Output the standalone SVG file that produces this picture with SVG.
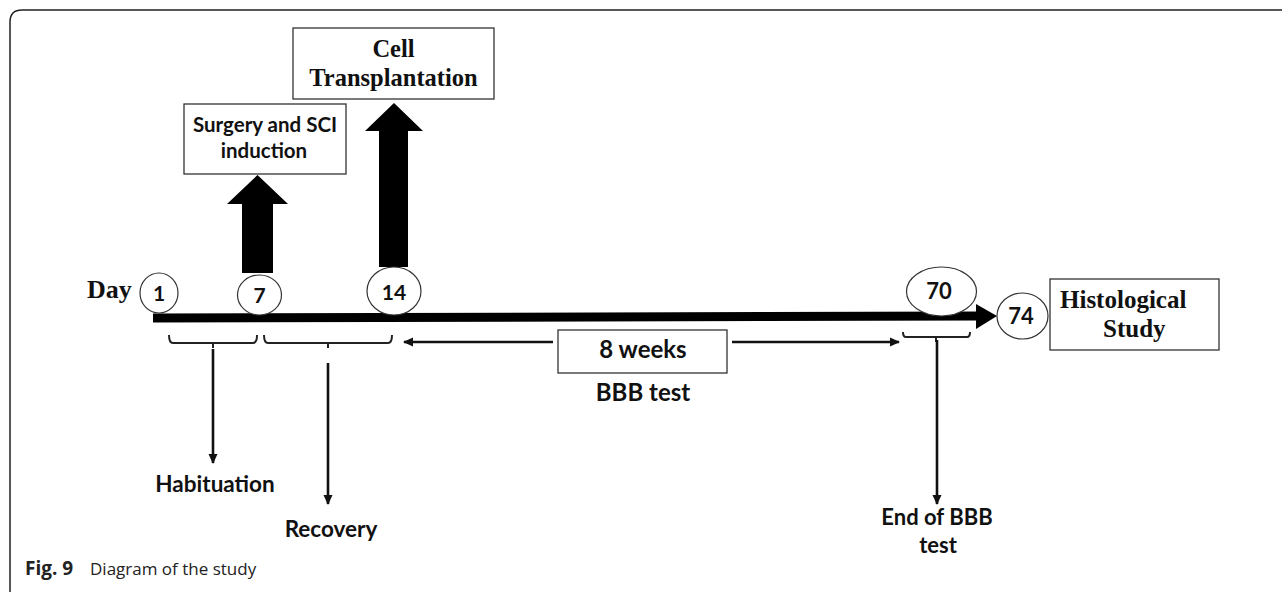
<svg xmlns="http://www.w3.org/2000/svg" width="1282" height="592" viewBox="0 0 1282 592">
<style>
.sans{font-family:Lato,"Open Sans",sans-serif;font-weight:bold;fill:#111}
.serif{font-family:"Liberation Serif","DejaVu Serif",serif;font-weight:bold;fill:#111}
.box{fill:#fff;stroke:#333;stroke-width:1.3}
.oval{fill:#fff;stroke:#333;stroke-width:1.2}
.thin{fill:none;stroke:#111;stroke-width:2.6}
.brk{fill:none;stroke:#222;stroke-width:2}
.cap{font-family:"Open Sans",sans-serif;fill:#222}
</style>
<defs>
<marker id="ah" viewBox="0 0 10 10" refX="9" refY="5" markerWidth="10" markerHeight="10" orient="auto-start-reverse" markerUnits="userSpaceOnUse">
<path d="M0,0.5 L10,5 L0,9.5 z" fill="#111"/>
</marker>
</defs>
<rect width="1282" height="592" fill="#fff"/>
<path d="M10,592 L10,22 Q10,10 22,10 L1282,10" fill="none" stroke="#222" stroke-width="1.5"/>

<g id="connectors">
<path d="M153,318 L979,316" stroke="#000" stroke-width="9" fill="none"/>
<polygon points="976,304 997,316 976,329" fill="#000"/>
<polygon points="242,273 273,273 273,204 288,204 257.5,175 227,204 242,204" fill="#000"/>
<polygon points="379,267 408,267 408,131 423,131 394,103 365,131 379,131" fill="#000"/>
<path class="brk" d="M169,335 Q169,343 173,343 L253,343 Q257,343 257,335 M213,343 L213,348"/>
<path class="brk" d="M264,335 Q264,343 268,343 L388,343 Q392,343 392,335 M328,343 L328,348"/>
<path class="brk" d="M903,332 Q903,337 906,337 L967,337 Q970,337 970,332 M936,337 L936,342"/>
<line class="thin" x1="213" y1="349" x2="213" y2="463" marker-end="url(#ah)"/>
<line class="thin" x1="328" y1="363" x2="328" y2="504" marker-end="url(#ah)"/>
<line class="thin" x1="937" y1="340" x2="937" y2="504" marker-end="url(#ah)"/>
<line class="thin" x1="553" y1="342" x2="404" y2="342" marker-end="url(#ah)"/>
<line class="thin" x1="732" y1="342" x2="899" y2="342" marker-end="url(#ah)"/>
</g>

<g id="day-label"><text class="serif" x="87" y="298" font-size="26">Day</text></g>

<g id="day1"><ellipse class="oval" cx="159" cy="293" rx="19" ry="20"/><text class="sans" x="159" y="301" font-size="21" text-anchor="middle">1</text></g>
<g id="day7"><ellipse class="oval" cx="259.5" cy="295" rx="22" ry="20"/><text class="sans" x="259.5" y="303" font-size="21" text-anchor="middle">7</text></g>
<g id="day14"><ellipse class="oval" cx="394" cy="291" rx="27" ry="24"/><text class="sans" x="394" y="300" font-size="21" text-anchor="middle">14</text></g>
<g id="day70"><ellipse class="oval" cx="941.5" cy="291.5" rx="35" ry="24.5"/><text class="sans" x="939" y="299" font-size="22" text-anchor="middle">70</text></g>
<g id="day74"><ellipse class="oval" cx="1022.5" cy="316" rx="25.5" ry="23"/><text class="sans" x="1021" y="324" font-size="22" text-anchor="middle">74</text></g>

<g id="surgery"><rect class="box" x="184" y="104" width="162" height="70"/>
<text class="sans" x="265" y="132" font-size="20.5" text-anchor="middle">Surgery and SCI</text>
<text class="sans" x="264" y="158" font-size="20.5" text-anchor="middle">induction</text></g>

<g id="cell"><rect class="box" x="293" y="28" width="201" height="71"/>
<text class="serif" x="393.5" y="57" font-size="24.5" text-anchor="middle">Cell</text>
<text class="serif" x="393.5" y="86" font-size="24.5" text-anchor="middle">Transplantation</text></g>

<g id="histo"><rect class="box" x="1050" y="279" width="169" height="71"/>
<text class="serif" x="1060" y="308" font-size="25">Histological</text>
<text class="serif" x="1103" y="337" font-size="25">Study</text></g>

<g id="weeks"><rect class="box" x="558" y="330" width="169" height="43"/>
<text class="sans" x="643" y="358" font-size="24" text-anchor="middle">8 weeks</text></g>
<g id="bbb"><text class="sans" x="643" y="401" font-size="24" text-anchor="middle">BBB test</text></g>

<g id="habituation"><text class="sans" x="215" y="492" font-size="22.5" text-anchor="middle">Habituation</text></g>
<g id="recovery"><text class="sans" x="331" y="537" font-size="22.5" text-anchor="middle">Recovery</text></g>
<g id="endbbb"><text class="sans" x="937" y="525" font-size="22" text-anchor="middle">End of BBB</text>
<text class="sans" x="938" y="553" font-size="22" text-anchor="middle">test</text></g>

<g id="caption"><text class="cap" x="25" y="575" font-size="17"><tspan font-weight="bold" font-size="19">Fig. 9</tspan><tspan x="90">Diagram of the study</tspan></text></g>
</svg>
